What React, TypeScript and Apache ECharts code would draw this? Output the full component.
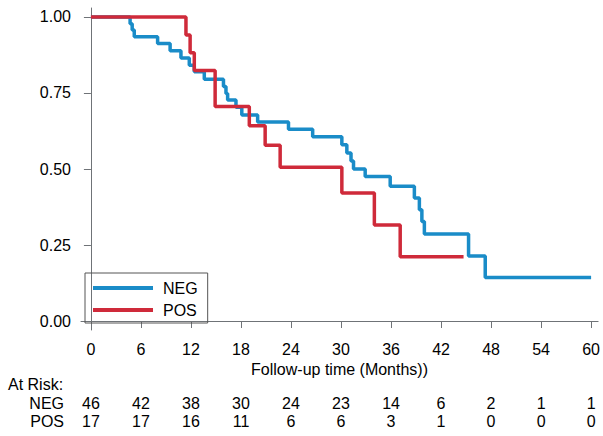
import React, { useEffect, useRef } from "react";
import * as echarts from "echarts";

// Kaplan-Meier step data (time in months, survival probability)
const negTimes = [0, 4.7, 4.95, 5.2, 8.0, 9.5, 10.8, 11.8, 12.4, 13.6, 15.9, 16.2, 16.4, 17.4, 18.1, 20.0, 23.7, 26.6, 30.1, 30.7, 31.2, 31.5, 32.9, 35.9, 38.8, 39.4, 39.7, 40.0, 45.3, 47.3, 60.0];
const negSurv = [1.0, 0.978, 0.957, 0.935, 0.913, 0.889, 0.865, 0.841, 0.82, 0.795, 0.771, 0.748, 0.727, 0.703, 0.678, 0.655, 0.631, 0.606, 0.58, 0.553, 0.526, 0.5, 0.475, 0.443, 0.405, 0.366, 0.327, 0.286, 0.214, 0.143, 0.143];
const posTimes = [0, 11.4, 11.9, 12.4, 14.9, 19.0, 20.9, 22.7, 30.1, 34.0, 37.1, 44.7];
const posSurv = [1.0, 0.941, 0.882, 0.824, 0.706, 0.642, 0.578, 0.506, 0.421, 0.316, 0.211, 0.211];

const xTicks = [0, 6, 12, 18, 24, 30, 36, 42, 48, 54, 60];
const yTicks = [0, 0.25, 0.5, 0.75, 1.0];
const negAtRisk = [46, 42, 38, 30, 24, 23, 14, 6, 2, 1, 1];
const posAtRisk = [17, 17, 16, 11, 6, 6, 3, 1, 0, 0, 0];

const seriesNames = ["NEG", "POS"];
const xTitle = "Follow-up time (Months))";

const BLUE = "#1a8cc8";
const RED = "#cf2a3a";
const FONT = "Liberation Sans, Arial, sans-serif";
const AXIS = "#6f7377";

export default function App() {
  const ref = useRef<HTMLDivElement>(null);
  useEffect(() => {
    if (!ref.current) return;
    const chart = echarts.init(ref.current, null, { renderer: "svg" });
    const xMin = -1.19;
    const xMax = 60.84;
    const hiddenAxis = (rows: number[], margin: number) => ({
      type: "value",
      min: xMin,
      max: xMax,
      position: "bottom",
      axisLine: { show: false },
      axisTick: { show: false },
      splitLine: { show: false },
      axisLabel: {
        customValues: xTicks,
        margin,
        color: "#000",
        fontSize: 16,
        fontFamily: FONT,
        formatter: (v: number) => {
          const i = xTicks.indexOf(Math.round(v));
          return i >= 0 ? String(rows[i]) : "";
        },
      },
    });
    chart.setOption({
      animation: false,
      backgroundColor: "#fff",
      textStyle: { fontFamily: FONT },
      grid: { left: 81, right: 2, top: 8, bottom: 106, containLabel: false },
      legend: {
        orient: "vertical",
        left: 85,
        top: 273,
        data: seriesNames,
        icon: "rect",
        itemWidth: 60,
        itemHeight: 4,
        itemGap: 6,
        padding: [7, 10, 5, 8],
        borderColor: "#555",
        borderWidth: 1,
        textStyle: { fontSize: 16, color: "#000", fontFamily: FONT, lineHeight: 16, padding: [0, 0, 0, 5] },
      },
      xAxis: [
        {
          type: "value",
          min: xMin,
          max: xMax,
          position: "bottom",
          name: xTitle,
          nameLocation: "middle",
          nameGap: 29,
          nameTextStyle: { fontSize: 16, color: "#000", fontFamily: FONT },
          axisLine: { show: true, lineStyle: { color: AXIS, width: 1 } },
          axisTick: { show: true, customValues: xTicks, length: 7, lineStyle: { color: AXIS } },
          splitLine: { show: false },
          axisLabel: {
            customValues: xTicks,
            margin: 11,
            color: "#000",
            fontSize: 16,
            fontFamily: FONT,
            formatter: (v: number) => String(Math.round(v)),
          },
        },
        hiddenAxis(negAtRisk, 65),
        hiddenAxis(posAtRisk, 83),
      ],
      yAxis: {
        type: "value",
        min: -0.0296,
        max: 1.0296,
        axisLine: { show: true, lineStyle: { color: AXIS, width: 1 } },
        axisTick: { show: true, customValues: yTicks, length: 7, lineStyle: { color: AXIS } },
        splitLine: { show: false },
        axisLabel: {
          customValues: yTicks,
          margin: 10,
          color: "#000",
          fontSize: 16,
          fontFamily: FONT,
          formatter: (v: number) => v.toFixed(2),
        },
      },
      graphic: [
        { type: "text", left: 8, top: 376, style: { text: "At Risk:", fontSize: 16, fontFamily: FONT, fill: "#000" } },
        { type: "text", right: 603 - 64, top: 395, style: { text: "NEG", fontSize: 16, fontFamily: FONT, fill: "#000" } },
        { type: "text", right: 603 - 64, top: 413, style: { text: "POS", fontSize: 16, fontFamily: FONT, fill: "#000" } },
      ],
      series: [
        {
          name: seriesNames[0],
          type: "line",
          step: "end",
          showSymbol: false,
          color: BLUE,
          lineStyle: { width: 3.5, color: BLUE },
          data: negTimes.map((t, i) => [t, negSurv[i]]),
        },
        {
          name: seriesNames[1],
          type: "line",
          step: "end",
          showSymbol: false,
          color: RED,
          lineStyle: { width: 3.5, color: RED },
          data: posTimes.map((t, i) => [t, posSurv[i]]),
        },
      ],
    });
    return () => chart.dispose();
  }, []);
  return <div ref={ref} style={{ width: 603, height: 436, position: "fixed", left: 0, top: 0 }} />;
}
